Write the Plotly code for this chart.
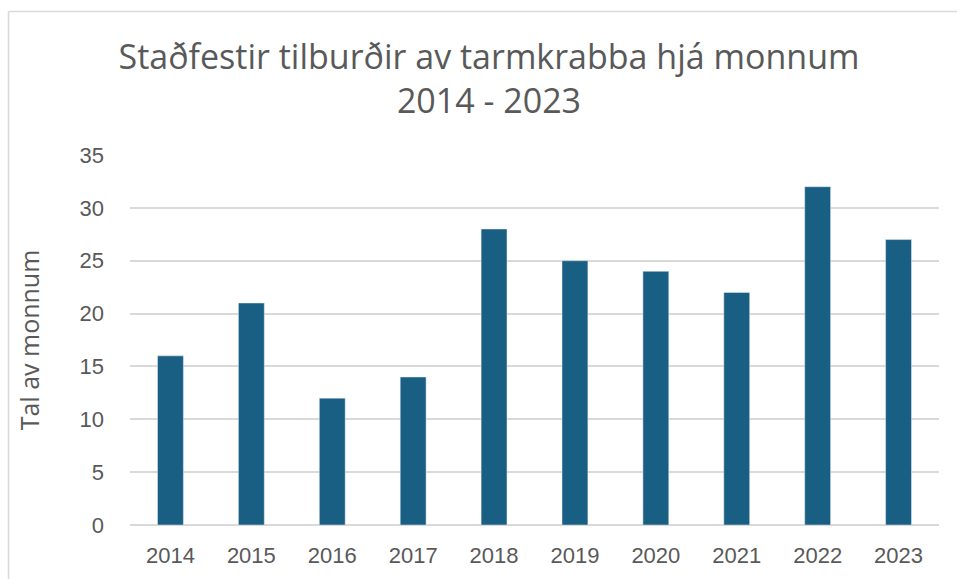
import plotly.graph_objects as go

years = ["2014", "2015", "2016", "2017", "2018", "2019", "2020", "2021", "2022", "2023"]
cases = [16, 21, 12, 14, 28, 25, 24, 22, 32, 27]
y_ticks = [0, 5, 10, 15, 20, 25, 30, 35]

W, H = 957, 579
L, R, T, B = 130, 18, 155, 54
pw, ph = W - L - R, H - T - B

fig = go.Figure(go.Bar(x=years, y=cases, marker_color="#195E83", width=0.32))

bx = (8.5 - L) / pw
by = 1 + (T - 11.5) / ph

fig.update_layout(
    width=W, height=H,
    margin=dict(l=L, r=R, t=T, b=B),
    paper_bgcolor="white", plot_bgcolor="white",
    showlegend=False,
    title=dict(
        text="Staðfestir tilburðir av tarmkrabba hjá monnum<br>2014 - 2023",
        x=489 / W, xanchor="center", y=1 - 69 / H, yanchor="middle",
        font=dict(family="Open Sans", size=34, color="#595959"),
    ),
    xaxis=dict(
        type="category", showgrid=False, showline=False,
        tickfont=dict(family="Liberation Sans", size=22, color="#595959"),
        ticks="", ticklabelstandoff=15,
    ),
    yaxis=dict(
        range=[0, 35], tickvals=y_ticks, showgrid=True,
        gridcolor="#D9D9D9", gridwidth=1.5, zeroline=True,
        zerolinecolor="#D9D9D9", zerolinewidth=1.5, showline=False,
        tickfont=dict(family="Liberation Sans", size=22, color="#595959"),
        ticks="", ticklabelstandoff=25,
        title=dict(text="Tal av monnum", standoff=32,
                   font=dict(family="Open Sans", size=25, color="#595959")),
    ),
    shapes=[
        dict(type="line", xref="paper", yref="paper", x0=bx, x1=bx, y0=-0.5, y1=by,
             line=dict(color="#D9D9D9", width=1.5)),
        dict(type="line", xref="paper", yref="paper", x0=bx, x1=1.2, y0=by, y1=by,
             line=dict(color="#D9D9D9", width=1.5)),
    ],
)

fig.write_html(
    "out.html",
    config={"displayModeBar": False},
    post_script="document.body.style.margin='0';document.body.style.overflow='hidden';",
)
